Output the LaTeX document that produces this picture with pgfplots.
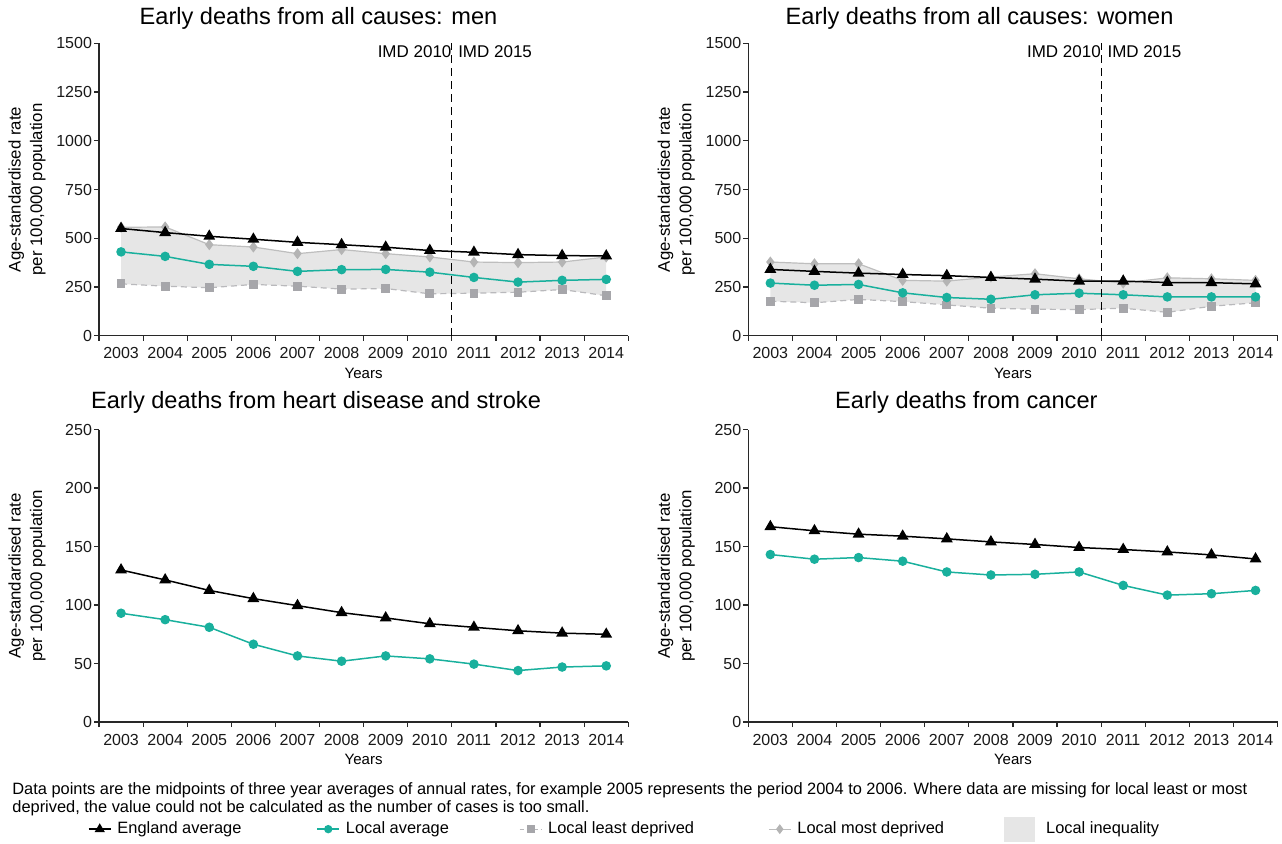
\documentclass[border=0pt]{standalone}
\usepackage{fontspec}
\setmainfont{Liberation Sans}
\usepackage{pgfplots}
\pgfplotsset{compat=1.18}
\usepackage{pgfplotstable}
\usepgfplotslibrary{fillbetween}

\definecolor{tealc}{RGB}{25,176,157}
\definecolor{leastc}{RGB}{166,166,170}
\definecolor{leastl}{RGB}{185,185,188}
\definecolor{mostc}{RGB}{180,180,180}
\definecolor{mostl}{RGB}{190,190,190}
\definecolor{ineq}{RGB}{230,230,230}
\definecolor{axc}{RGB}{40,40,40}

\pgfplotstableread{
year eng loc least most
2003 550 430 266 556
2004 529 407 254 558
2005 510 366 246 467
2006 495 356 263 455
2007 479 330 254 421
2008 467 339 239 442
2009 454 340 242 421
2010 437 326 215 404
2011 428 299 218 378
2012 416 275 223 375
2013 411 284 237 378
2014 409 289 205 404
}\men

\pgfplotstableread{
year eng loc least most
2003 340 270 177 378
2004 330 259 169 369
2005 321 263 186 369
2006 314 220 175 284
2007 308 196 158 280
2008 299 187 141 301
2009 290 210 136 318
2010 280 218 134 292
2011 280 210 141 270
2012 273 199 120 297
2013 272 199 151 292
2014 266 199 169 284
}\women

\pgfplotstableread{
year eng loc
2003 130.0 93.0
2004 121.5 87.5
2005 112.5 81.0
2006 105.5 66.5
2007 99.5 56.5
2008 93.5 52.0
2009 89.0 56.5
2010 84.0 54.0
2011 81.0 49.5
2012 78.0 44.0
2013 76.0 47.0
2014 75.0 48.0
}\heart

\pgfplotstableread{
year eng loc
2003 167.0 143.2
2004 163.5 139.2
2005 160.6 140.6
2006 158.9 137.5
2007 156.6 128.3
2008 154.0 125.7
2009 151.8 126.3
2010 149.2 128.3
2011 147.5 116.8
2012 145.4 108.5
2013 142.9 109.7
2014 139.4 112.5
}\cancer

\tikzset{imd/.style={inner sep=0pt, font=\fontsize{8.5}{10}\selectfont}}

\pgfplotsset{
  panel/.style={
    scale only axis, width=264.65pt, height=146.2pt,
    axis lines=left, axis line style={-, draw=axc, line width=0.6pt},
    xmin=2002.5, xmax=2014.5, ymin=0,
    xtick={2003,...,2014},
    minor xtick={2002.5,2003.5,...,2014.5},
    major x tick style={draw=none},
    tick align=outside,
    major tick length=2.5pt, minor tick length=2.5pt,
    every tick/.style={axc, line width=0.6pt},
    minor tick style={axc, line width=0.6pt},
    tick label style={font=\fontsize{8}{9.6}\selectfont, text=black!90},
    yticklabel style={xshift=2.5pt},
    /pgf/number format/1000 sep={},
    /pgf/number format/assume math mode=true,
    xlabel={Years},
    xlabel style={font=\fontsize{7.5}{9}\selectfont, at={(axis description cs:0.5,-0.128)}, anchor=center},
    ylabel={Age-standardised rate\\per 100,000 population},
    ylabel style={font=\fontsize{8.4}{10.8}\selectfont, at={(axis description cs:-0.136,0.5)}, anchor=center, align=center},
    every axis title/.style={font=\fontsize{11.8}{14}\selectfont, anchor=center},
    clip=false,
  },
  engs/.style={black, line width=0.75pt, mark=triangle*, mark size=2.7pt, mark options={solid}},
  locs/.style={tealc, line width=0.75pt, mark=*, mark size=2pt, mark options={solid}},
  leasts/.style={leastl, line width=0.6pt, dashed, dash pattern=on 3pt off 2pt, mark=square*, mark size=1.9pt, mark options={solid, leastc}},
  mosts/.style={mostl, line width=0.6pt, mark=diamond*, mark size=2.3pt, mark options={solid, mostc}},
}

\begin{document}
\begin{tikzpicture}

% Top-left
\begin{axis}[panel, at={(49.5pt,-167.85pt)}, anchor=south west,
  ymax=1500, ytick={0,250,...,1500},
  title={Early deaths from all causes: men},
  title style={at={(axis description cs:0.4147,1.0865)}}]
\addplot[draw=none, name path=mostA, forget plot] table[x=year,y=most]{\men};
\addplot[draw=none, name path=leastA, forget plot] table[x=year,y=least]{\men};
\addplot[fill=ineq, draw=none, forget plot] fill between[of=mostA and leastA];
\addplot[leasts, forget plot] table[x=year,y=least]{\men};
\addplot[mosts, forget plot] table[x=year,y=most]{\men};
\addplot[engs, forget plot] table[x=year,y=eng]{\men};
\addplot[locs, forget plot] table[x=year,y=loc]{\men};
\addplot[black, line width=0.5pt, dash pattern=on 4pt off 2.5pt, forget plot] coordinates {(2010.5,0) (2010.5,1500)};
\node[imd, anchor=east] at (axis cs:2010.5,1457) {IMD 2010\hspace{4pt}};
\node[imd, anchor=west] at (axis cs:2010.5,1457) {\hspace{3pt}IMD 2015};
\end{axis}

% Top-right
\begin{axis}[panel, at={(374.15pt,-167.85pt)}, anchor=south west,
  ymax=1500, ytick={0,250,...,1500},
  title={Early deaths from all causes: women},
  title style={at={(axis description cs:0.437,1.0865)}}]
\addplot[draw=none, name path=mostB, forget plot] table[x=year,y=most]{\women};
\addplot[draw=none, name path=leastB, forget plot] table[x=year,y=least]{\women};
\addplot[fill=ineq, draw=none, forget plot] fill between[of=mostB and leastB];
\addplot[leasts, forget plot] table[x=year,y=least]{\women};
\addplot[mosts, forget plot] table[x=year,y=most]{\women};
\addplot[engs, forget plot] table[x=year,y=eng]{\women};
\addplot[locs, forget plot] table[x=year,y=loc]{\women};
\addplot[black, line width=0.5pt, dash pattern=on 4pt off 2.5pt, forget plot] coordinates {(2010.5,0) (2010.5,1500)};
\node[imd, anchor=east] at (axis cs:2010.5,1457) {IMD 2010\hspace{4pt}};
\node[imd, anchor=west] at (axis cs:2010.5,1457) {\hspace{3pt}IMD 2015};
\end{axis}

% Bottom-left
\begin{axis}[panel, at={(49.5pt,-361pt)}, anchor=south west,
  ymax=250, ytick={0,50,...,250},
  title={Early deaths from heart disease and stroke},
  title style={at={(axis description cs:0.41,1.0925)}},
  legend columns=5,
  legend style={at={(axis description cs:-0.0208,-0.3664)}, anchor=west, draw=none, fill=none,
    inner sep=0pt, outer sep=0pt, font=\fontsize{8.2}{9.8}\selectfont,
    nodes={inner sep=0pt},
    /tikz/every odd column/.append style={column sep=3pt}},
  legend image code/.code={\draw[mark repeat=2,mark phase=2,#1] plot coordinates {(0pt,0pt) (5.5pt,0pt) (11pt,0pt)};}]
\addplot[engs, forget plot] table[x=year,y=eng]{\heart};
\addplot[locs, forget plot] table[x=year,y=loc]{\heart};
\addlegendimage{black, line width=0.75pt, mark=triangle*, mark size=2.2pt}
\addlegendentry{\makebox[99.5pt][l]{England average}}
\addlegendimage{tealc, line width=0.75pt, mark=*, mark size=1.7pt}
\addlegendentry{\makebox[86.5pt][l]{Local average}}
\addlegendimage{leastl, line width=0.6pt, dash pattern=on 2pt off 1.5pt, mark=square*, mark size=1.7pt, mark options={solid, leastc}}
\addlegendentry{\makebox[110pt][l]{Local least deprived}}
\addlegendimage{mostl, line width=0.6pt, mark=diamond*, mark size=2pt, mark options={solid, mostc}}
\addlegendentry{\makebox[103.5pt][l]{Local most deprived}}
\addlegendimage{legend image code/.code={\fill[ineq] (0pt,-6pt) rectangle (15pt,6pt);}}
\addlegendentry{\hspace{2.5pt}Local inequality}
\end{axis}

% Bottom-right
\begin{axis}[panel, at={(374.15pt,-361pt)}, anchor=south west,
  ymax=250, ytick={0,50,...,250},
  title={Early deaths from cancer},
  title style={at={(axis description cs:0.412,1.0925)}}]
\addplot[engs, forget plot] table[x=year,y=eng]{\cancer};
\addplot[locs, forget plot] table[x=year,y=loc]{\cancer};
\end{axis}

\node[anchor=west, inner sep=0pt, font=\fontsize{8.2}{9.8}\selectfont] at (6pt,-395pt) {Data points are the midpoints of three year averages of annual rates, for example 2005 represents the period 2004 to 2006. Where data are missing for local least or most};
\node[anchor=west, inner sep=0pt, font=\fontsize{8.2}{9.8}\selectfont] at (6pt,-404pt) {deprived, the value could not be calculated as the number of cases is too small.};

\pgfresetboundingbox
\path[use as bounding box] (0pt,0pt) rectangle (641pt,-421.5pt);
\end{tikzpicture}
\end{document}
